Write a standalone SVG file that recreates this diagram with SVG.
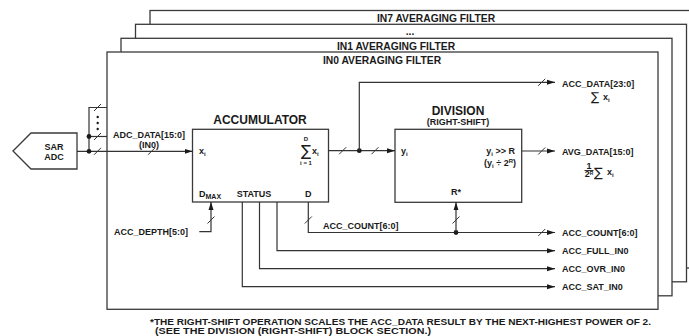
<svg xmlns="http://www.w3.org/2000/svg" width="689" height="336" viewBox="0 0 689 336">
<style>
.f{fill:#fff;stroke:#3a3a3a;stroke-width:1.3}
.l{fill:none;stroke:#333;stroke-width:1.2}
.s{stroke:#333;stroke-width:1}
.t{font-family:"Liberation Sans",Arial,sans-serif;font-weight:bold;fill:#1a1a1a;font-size:9px}
.m{text-anchor:middle}
.e{text-anchor:end}
.h{font-size:10.3px}
.b{font-size:12px}
.sub{font-size:6px}
.sg{font-family:"DejaVu Sans","Liberation Sans",sans-serif;font-weight:normal;fill:#1a1a1a}
.d{fill:#1a1a1a}
</style>
<defs>
<marker id="a" markerUnits="userSpaceOnUse" markerWidth="8" markerHeight="6" refX="8" refY="3" orient="auto">
<path d="M0,0.5 L8,3 L0,5.5 z" fill="#1a1a1a"/>
</marker>
<path id="sl" d="M-3.5,3.5 L3.5,-3.5" class="s"/>
</defs>

<g id="frame-in7">
<rect class="f" x="150" y="10.5" width="570" height="257.5"/>
<text class="t h m" x="436" y="22">IN7 AVERAGING FILTER</text>
</g>
<g id="frame-dots">
<rect class="f" x="135.5" y="24.3" width="551" height="257.5"/>
<text class="t h m" x="410" y="35">...</text>
</g>
<g id="frame-in1">
<rect class="f" x="121" y="38.3" width="551" height="257.5"/>
<text class="t h m" x="396" y="50">IN1 AVERAGING FILTER</text>
</g>
<g id="frame-in0">
<rect class="f" x="107" y="52" width="551" height="257.3"/>
<text class="t h m" x="382" y="64">IN0 AVERAGING FILTER</text>
</g>

<g id="sar-adc">
<polygon class="f" points="13,151 31,133 77,133 77,169 31,169"/>
<text class="t m" x="54" y="150">SAR</text>
<text class="t m" x="54" y="160">ADC</text>
</g>

<g id="accumulator">
<rect class="f" x="192.5" y="129.3" width="136" height="72.7"/>
<text class="t b m" x="260" y="124">ACCUMULATOR</text>
<text class="t" x="199" y="154">x<tspan class="sub" dy="2">i</tspan></text>
<text class="t sub m" x="306" y="141">D</text>
<text class="sg m" x="306" y="156" font-size="15">∑</text>
<text class="t sub m" x="306" y="165">i = 1</text>
<text class="t" x="312" y="154">x<tspan class="sub" dy="2">i</tspan></text>
<text class="t" x="199" y="197">D<tspan font-size="7" dy="2">MAX</tspan></text>
<text class="t m" x="254" y="197">STATUS</text>
<text class="t m" x="308.3" y="197">D</text>
</g>

<g id="division">
<rect class="f" x="395" y="129.3" width="126.7" height="73"/>
<text class="t b m" x="458" y="115">DIVISION</text>
<text class="t m" x="458" y="124.5" font-size="8">(RIGHT-SHIFT)</text>
<text class="t" x="401" y="154">y<tspan class="sub" dy="2">i</tspan></text>
<text class="t e" x="515" y="154">y<tspan class="sub" dy="2">i</tspan><tspan dy="-2"> &gt;&gt; R</tspan></text>
<text class="t e" x="516" y="166">(y<tspan class="sub" dy="2">i</tspan><tspan dy="-2"> ÷ 2</tspan><tspan class="sub" dy="-3">R</tspan><tspan dy="3">)</tspan></text>
<text class="t m" x="456" y="195">R*</text>
</g>

<g id="connectors">
<path class="l" d="M77,151.3 H192.5" marker-end="url(#a)"/>
<path class="l" d="M107,107.5 H89 V151.3"/>
<path class="l" d="M89,136.5 H107"/>
<circle class="d" cx="89" cy="151.3" r="2.4"/>
<circle class="d" cx="89" cy="136.5" r="2.4"/>
<circle class="d" cx="97.7" cy="117" r="1.2"/>
<circle class="d" cx="97.7" cy="123" r="1.2"/>
<circle class="d" cx="97.7" cy="129" r="1.2"/>
<use href="#sl" x="97.5" y="107.5"/>
<use href="#sl" x="97.5" y="136.5"/>
<use href="#sl" x="97.5" y="151.3"/>
<use href="#sl" x="151.5" y="151.3"/>
<text class="t m" x="149" y="138">ADC_DATA[15:0]</text>
<text class="t m" x="149" y="147.5">(IN0)</text>

<path class="l" d="M328.5,150.7 H395" marker-end="url(#a)"/>
<use href="#sl" x="342.7" y="150.7"/>
<use href="#sl" x="375" y="150.7"/>
<circle class="d" cx="359.3" cy="150.7" r="2.4"/>
<path class="l" d="M359.3,150.7 V82.3 H555" marker-end="url(#a)"/>
<use href="#sl" x="541.7" y="82.3"/>
<text class="t" x="562" y="87">ACC_DATA[23:0]</text>
<text class="sg" x="591" y="101" font-size="12">∑</text>
<text class="t" x="603" y="100">x<tspan class="sub" dy="2">i</tspan></text>

<path class="l" d="M521.7,151 H555" marker-end="url(#a)"/>
<use href="#sl" x="541.7" y="151"/>
<text class="t" x="562" y="155">AVG_DATA[15:0]</text>
<text class="t m" x="589" y="168.6" font-size="7">1</text>
<line class="s" x1="584.5" y1="170.5" x2="593.5" y2="170.5"/>
<text class="t" x="584.8" y="177.2" font-size="7">2<tspan font-size="5" dy="-2.5">R</tspan></text>
<text class="sg" x="594" y="176.5" font-size="13">∑</text>
<text class="t" x="607" y="175">x<tspan class="sub" dy="2">i</tspan></text>

<path class="l" d="M199.3,231.7 H211 V202" marker-end="url(#a)"/>
<use href="#sl" x="211" y="220"/>
<text class="t e" x="188" y="235">ACC_DEPTH[5:0]</text>

<path class="l" d="M308.3,202 V232.5 H555" marker-end="url(#a)"/>
<use href="#sl" x="308.3" y="220"/>
<use href="#sl" x="541.7" y="232.5"/>
<text class="t" x="323" y="228.5">ACC_COUNT[6:0]</text>
<circle class="d" cx="456" cy="232.5" r="2.4"/>
<path class="l" d="M456,232.5 V202.3" marker-end="url(#a)"/>
<use href="#sl" x="456" y="220"/>
<text class="t" x="562" y="235.5">ACC_COUNT[6:0]</text>

<path class="l" d="M277,202 V250.7 H555" marker-end="url(#a)"/>
<text class="t" x="562" y="254">ACC_FULL_IN0</text>
<path class="l" d="M259.5,202 V268.7 H555" marker-end="url(#a)"/>
<text class="t" x="562" y="272">ACC_OVR_IN0</text>
<path class="l" d="M242.3,202 V286.7 H555" marker-end="url(#a)"/>
<text class="t" x="562" y="290">ACC_SAT_IN0</text>
</g>

<g id="footnote">
<text class="t" x="150" y="325" font-size="10" textLength="501" lengthAdjust="spacingAndGlyphs">*THE RIGHT-SHIFT OPERATION SCALES THE ACC_DATA RESULT BY THE NEXT-HIGHEST POWER OF 2.</text>
<text class="t" x="155" y="334" font-size="10" textLength="276" lengthAdjust="spacingAndGlyphs">(SEE THE DIVISION (RIGHT-SHIFT) BLOCK SECTION.)</text>
</g>
</svg>
